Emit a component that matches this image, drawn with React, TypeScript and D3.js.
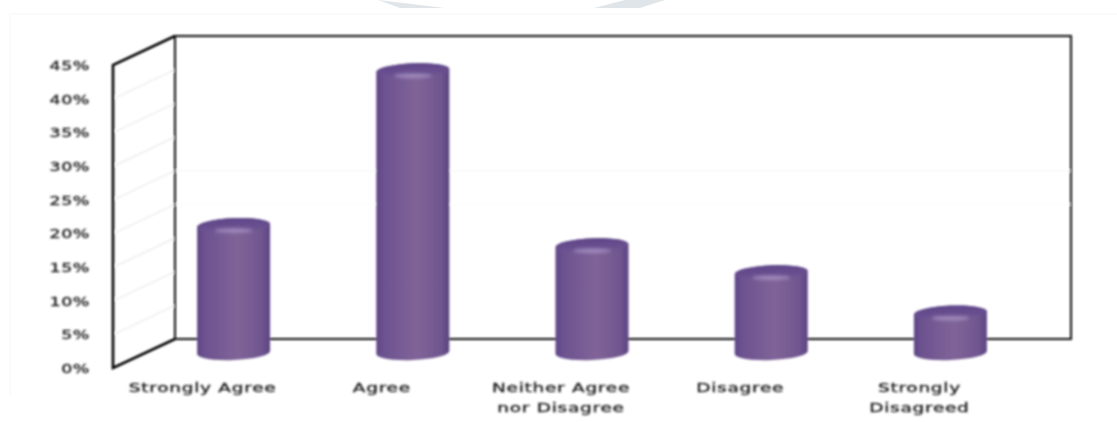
import * as d3 from 'd3'

const CATEGORIES = [['Strongly Agree'], ['Agree'], ['Neither Agree', 'nor Disagree'], ['Disagree'], ['Strongly', 'Disagreed']]
const VALUES = [19, 42, 16, 12, 6]
const TICKS = [0, 5, 10, 15, 20, 25, 30, 35, 40, 45]
const WATERMARK = ['378,0 445,8 400,8', '594,8 640,8 665,0 625,0']

const W = 1117
const H = 422
// front plane of the fake 3d box, back wall sits at +depth
const FRONT_LEFT = 113
const FRONT_RIGHT = 1009
const Y0 = 368
const Y45 = 65
const DX = 62
const DY = -29
const FONT = '"DejaVu Sans", sans-serif'

const x = d3.scaleBand<number>().domain(d3.range(VALUES.length)).range([FRONT_LEFT, FRONT_RIGHT])
const y = d3.scaleLinear().domain([0, 45]).range([Y0, Y45])

const RX = 36.5
const RY = 7.5
const TILT = -2.5

function Cylinder({ i, v }: { i: number; v: number }) {
  const cx = x(i)! + x.bandwidth() / 2 + DX / 2
  const base = y(0) + DY / 2 - 1
  const top = y(v) + DY / 2
  const s = Math.sin((TILT * Math.PI) / 180) * RX
  const body = `M${cx - RX},${top - s} A${RX},${RY} ${TILT} 0 1 ${cx + RX},${top + s}
    L${cx + RX},${base + s} A${RX},${RY} ${TILT} 0 1 ${cx - RX},${base - s} Z`
  return (
    <g>
      <path d={body} fill="url(#barBody)" />
      <ellipse cx={cx} cy={top} rx={RX} ry={RY} transform={`rotate(${TILT} ${cx} ${top})`} fill="url(#barCap)" />
      <ellipse cx={cx} cy={top + 5} rx={19} ry={2.2} fill="#a490c0" opacity={0.9} filter="url(#soft)" />
    </g>
  )
}

export default function App() {
  return (
    <svg
      width={W}
      height={H}
      viewBox={`0 0 ${W} ${H}`}
      style={{ position: 'fixed', left: 0, top: 0, display: 'block', background: '#fff' }}
    >
      <defs>
        <linearGradient id="barBody" x1="0" x2="1" y1="0" y2="0">
          <stop offset="0" stopColor="#5e4686" />
          <stop offset="0.1" stopColor="#6c5290" />
          <stop offset="0.55" stopColor="#806498" />
          <stop offset="0.88" stopColor="#70568f" />
          <stop offset="1" stopColor="#5c4482" />
        </linearGradient>
        <linearGradient id="barCap" x1="0" x2="0" y1="0" y2="1">
          <stop offset="0" stopColor="#5e4688" />
          <stop offset="0.7" stopColor="#6a5090" stopOpacity={0.9} />
          <stop offset="1" stopColor="#735a96" stopOpacity={0} />
        </linearGradient>
        <filter id="soft" x="-30%" y="-100%" width="160%" height="300%">
          <feGaussianBlur stdDeviation="1.4" />
        </filter>
        <filter id="blur" x="-2%" y="-2%" width="104%" height="104%">
          <feGaussianBlur stdDeviation="0.8" />
        </filter>
      </defs>

      {/* scan leftovers: page frame and watermark */}
      {WATERMARK.map(p => (
        <polygon key={p} points={p} fill="#dfe5e8" />
      ))}
      <path d={`M10,395 L10,14 L${W},14`} fill="none" stroke="#f9f9f9" strokeWidth={1.5} />

      <g filter="url(#blur)">
        {/* gridlines */}
        {TICKS.slice(1, -1).map(t => (
          <line key={t} x1={FRONT_LEFT + 3} y1={y(t) - 1} x2={FRONT_LEFT + DX} y2={y(t) + DY} stroke="#ededed" strokeWidth={1.4} />
        ))}
        {[20, 25].map(t => (
          <line
            key={t}
            x1={FRONT_LEFT + DX}
            y1={y(t) + DY}
            x2={FRONT_RIGHT + DX}
            y2={y(t) + DY}
            stroke={t === 25 ? '#f6f6f6' : '#fbfbfb'}
            strokeWidth={1.2}
          />
        ))}

        {/* box outline */}
        <path
          d={`M${FRONT_LEFT + DX},${y(0) + DY} L${FRONT_LEFT + DX},${y(45) + DY} L${FRONT_RIGHT + DX},${y(45) + DY} L${FRONT_RIGHT + DX},${y(0) + DY} Z`}
          fill="none"
          stroke="#111"
          strokeWidth={2}
        />
        <path
          d={`M${FRONT_LEFT + DX},${y(45) + DY} L${FRONT_LEFT},${y(45)} L${FRONT_LEFT},${y(0)} L${FRONT_LEFT + DX},${y(0) + DY}`}
          fill="none"
          stroke="#000"
          strokeWidth={2.6}
        />

        {VALUES.map((v, i) => (
          <Cylinder key={i} i={i} v={v} />
        ))}

        {/* y tick labels, stretched like the source image */}
        {TICKS.map(t => (
          <text
            key={t}
            transform={`translate(90,${y(t) + 5}) scale(1.4,1)`}
            textAnchor="end"
            fontFamily={FONT}
            fontSize={12.5}
            letterSpacing={0.4}
            fill="#222"
            stroke="#222"
            strokeWidth={0.35}
          >
            {t}%
          </text>
        ))}

        {/* category labels */}
        {CATEGORIES.map((lines, i) =>
          lines.map((line, j) => (
            <text
              key={line}
              transform={`translate(${x(i)! + x.bandwidth() / 2},${392 + j * 20}) scale(1.48,1)`}
              textAnchor="middle"
              fontFamily={FONT}
              fontSize={12.5}
              letterSpacing={0.5}
              fill="#222"
              stroke="#222"
              strokeWidth={0.35}
            >
              {line}
            </text>
          ))
        )}
      </g>
    </svg>
  )
}
